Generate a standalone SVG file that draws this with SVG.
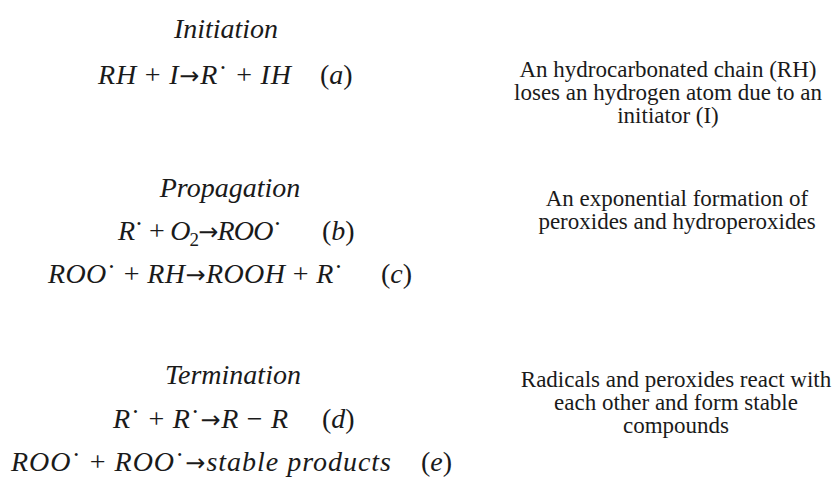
<svg xmlns="http://www.w3.org/2000/svg" width="833" height="484" viewBox="0 0 833 484">
<style>
.hd{font-family:"Liberation Serif","DejaVu Serif",serif;font-style:italic;font-size:28px;fill:#1a1a1a;text-anchor:middle}
.eq{font-family:"Liberation Serif","DejaVu Serif",serif;font-style:italic;font-size:28px;fill:#1a1a1a}
.op{font-style:normal}
.ar{font-style:normal;font-family:"DejaVu Sans",sans-serif;font-size:24px}
.sub{font-style:normal;font-size:19px}
.tx{font-family:"Liberation Serif","DejaVu Serif",serif;font-size:23px;fill:#1a1a1a;text-anchor:middle}
</style>
<rect width="833" height="484" fill="#ffffff"/>
<g id="initiation">
  <text class="hd" x="226" y="38">Initiation</text>
  <text class="eq" x="98" y="84" textLength="193" lengthAdjust="spacing">RH <tspan class="op">+</tspan> I<tspan class="ar">→</tspan>R<tspan class="op">˙</tspan> <tspan class="op">+</tspan> IH</text>
  <text class="eq" x="320" y="84"><tspan class="op">(</tspan>a<tspan class="op">)</tspan></text>
</g>
<g id="initiation-note">
  <text class="tx" x="668" y="77">An hydrocarbonated chain (RH)</text>
  <text class="tx" x="668" y="100">loses an hydrogen atom due to an</text>
  <text class="tx" x="668" y="123">initiator (I)</text>
</g>
<g id="propagation">
  <text class="hd" x="230" y="197">Propagation</text>
  <text class="eq" x="118" y="240" textLength="164" lengthAdjust="spacing">R<tspan class="op">˙</tspan> <tspan class="op">+</tspan> O<tspan class="sub" dy="6">2</tspan><tspan class="ar" dy="-6">→</tspan>ROO<tspan class="op">˙</tspan></text>
  <text class="eq" x="322" y="240"><tspan class="op">(</tspan>b<tspan class="op">)</tspan></text>
  <text class="eq" x="48" y="283" textLength="295" lengthAdjust="spacing">ROO<tspan class="op">˙</tspan> <tspan class="op">+</tspan> RH<tspan class="ar">→</tspan>ROOH <tspan class="op">+</tspan> R<tspan class="op">˙</tspan></text>
  <text class="eq" x="381" y="283"><tspan class="op">(</tspan>c<tspan class="op">)</tspan></text>
</g>
<g id="propagation-note">
  <text class="tx" x="677" y="206">An exponential formation of</text>
  <text class="tx" x="677" y="229">peroxides and hydroperoxides</text>
</g>
<g id="termination">
  <text class="hd" x="233" y="384">Termination</text>
  <text class="eq" x="113" y="428" textLength="175" lengthAdjust="spacing">R<tspan class="op">˙</tspan> <tspan class="op">+</tspan> R<tspan class="op">˙</tspan><tspan class="ar">→</tspan>R <tspan class="op">−</tspan> R</text>
  <text class="eq" x="322" y="428"><tspan class="op">(</tspan>d<tspan class="op">)</tspan></text>
  <text class="eq" x="11" y="471" textLength="380" lengthAdjust="spacing">ROO<tspan class="op">˙</tspan> <tspan class="op">+</tspan> ROO<tspan class="op">˙</tspan><tspan class="ar">→</tspan>stable products</text>
  <text class="eq" x="421" y="471"><tspan class="op">(</tspan>e<tspan class="op">)</tspan></text>
</g>
<g id="termination-note">
  <text class="tx" x="676" y="387">Radicals and peroxides react with</text>
  <text class="tx" x="676" y="410">each other and form stable</text>
  <text class="tx" x="676" y="433">compounds</text>
</g>
<g id="connectors"></g>
</svg>
